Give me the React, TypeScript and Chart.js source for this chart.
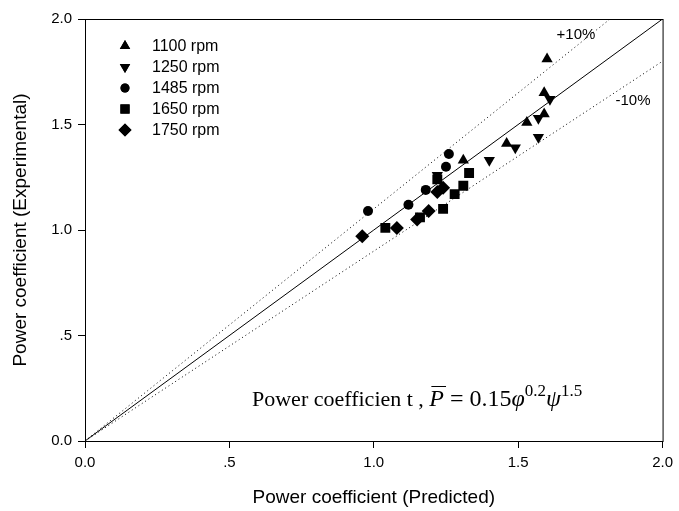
import React, { useEffect, useRef } from "react";
import { Chart, registerables } from "chart.js";
import { drawPoint } from "chart.js/helpers";

Chart.register(...registerables);

const seriesLabels = ["1100 rpm", "1250 rpm", "1485 rpm", "1650 rpm", "1750 rpm"];
const rpm1100X = [1.31, 1.46, 1.53, 1.59, 1.59, 1.6];
const rpm1100Y = [1.33, 1.41, 1.51, 1.55, 1.65, 1.81];
const rpm1250X = [1.22, 1.4, 1.49, 1.57, 1.57, 1.61];
const rpm1250Y = [1.26, 1.33, 1.39, 1.44, 1.53, 1.62];
const rpm1485X = [0.98, 1.12, 1.18, 1.25, 1.26];
const rpm1485Y = [1.09, 1.12, 1.19, 1.3, 1.36];
const rpm1650X = [1.04, 1.16, 1.22, 1.24, 1.28, 1.31, 1.33];
const rpm1650Y = [1.01, 1.06, 1.24, 1.1, 1.17, 1.21, 1.27];
const rpm1750X = [0.96, 1.08, 1.15, 1.19, 1.22, 1.24];
const rpm1750Y = [0.97, 1.01, 1.05, 1.09, 1.18, 1.2];

const tickValues = [0, 0.5, 1, 1.5, 2];
const tickLabels = ["0.0", ".5", "1.0", "1.5", "2.0"];

const perfectLine = [0, 2];
const upperBandX = [0, 2 / 1.1];
const upperBandY = [0, 2];
const lowerBandX = [0, 2];
const lowerBandY = [0, 1.8];

const xTitle = "Power coefficient (Predicted)";
const yTitle = "Power coefficient (Experimental)";

const SANS = '"Liberation Sans", Arial, sans-serif';
const SERIF = '"Liberation Serif", "Times New Roman", serif';

const markerStyles = [
  { pointStyle: "triangle", rotation: 0, radius: 6.5 },
  { pointStyle: "triangle", rotation: 180, radius: 6.5 },
  { pointStyle: "circle", rotation: 0, radius: 5 },
  { pointStyle: "rect", rotation: 0, radius: 7 },
  { pointStyle: "rectRot", rotation: 0, radius: 7 },
];

const zip = (xs: number[], ys: number[]) => xs.map((x, i) => ({ x, y: ys[i] }));

const decorPlugin = {
  id: "decor",
  afterDraw(chart: any) {
    const { ctx, chartArea } = chart;
    const { left, right, top, bottom } = chartArea;
    ctx.save();
    // frame
    ctx.strokeStyle = "#000";
    ctx.lineWidth = 1;
    ctx.strokeRect(left + 0.5, top + 0.5, right - left, bottom - top);

    // axis titles
    ctx.fillStyle = "#000";
    ctx.font = `19px ${SANS}`;
    ctx.textAlign = "center";
    ctx.textBaseline = "middle";
    ctx.fillText(xTitle, (left + right) / 2, 498);
    ctx.save();
    ctx.translate(21, (top + bottom) / 2);
    ctx.rotate(-Math.PI / 2);
    ctx.fillText(yTitle, 0, 0);
    ctx.restore();

    // legend
    ctx.font = `16px ${SANS}`;
    ctx.textAlign = "left";
    ctx.textBaseline = "middle";
    const rows = [46, 67, 88, 109, 130];
    seriesLabels.forEach((lab, i) => {
      const m = markerStyles[i];
      ctx.fillStyle = "#000";
      ctx.strokeStyle = "#000";
      drawPoint(ctx, { pointStyle: m.pointStyle, rotation: m.rotation, radius: m.radius - 0.5, borderWidth: 0 }, 125, rows[i]);
      ctx.fill();
      ctx.fillText(lab, 152, rows[i] + 1);
    });

    // band labels
    ctx.font = `15px ${SANS}`;
    ctx.textAlign = "center";
    ctx.fillText("+10%", 576, 35);
    ctx.fillText("-10%", 633, 101);

    // equation
    let x = 252;
    const base = 406;
    ctx.textAlign = "left";
    ctx.textBaseline = "alphabetic";
    const put = (s: string, font: string, dy = 0) => {
      ctx.font = font;
      ctx.fillText(s, x, base + dy);
      const w = ctx.measureText(s).width;
      x += w;
      return w;
    };
    const txt = `22px ${SERIF}`;
    const reg = `24px ${SERIF}`;
    const ital = `italic 24px ${SERIF}`;
    const sup = `17px ${SERIF}`;
    put("Power coefficien t , ", txt);
    const px = x;
    const pw = put("P", ital);
    ctx.beginPath();
    ctx.moveTo(px + 2, base - 19.5);
    ctx.lineTo(px + pw + 2, base - 19.5);
    ctx.lineWidth = 1;
    ctx.stroke();
    put(" = 0.15", reg);
    put("\u03C6", ital);
    put("0.2", sup, -10);
    put("\u03C8", ital);
    put("1.5", sup, -10);
    ctx.restore();
  },
};

export default function App() {
  const ref = useRef<HTMLCanvasElement | null>(null);
  useEffect(() => {
    document.body.style.margin = "0";
    const canvas = ref.current;
    if (!canvas) return;
    const pointSets = [
      zip(rpm1100X, rpm1100Y),
      zip(rpm1250X, rpm1250Y),
      zip(rpm1485X, rpm1485Y),
      zip(rpm1650X, rpm1650Y),
      zip(rpm1750X, rpm1750Y),
    ];
    const pointDatasets = pointSets.map((data, i) => ({
      label: seriesLabels[i],
      data,
      pointStyle: markerStyles[i].pointStyle,
      rotation: markerStyles[i].rotation,
      pointRadius: markerStyles[i].radius,
      backgroundColor: "#000",
      borderColor: "#000",
      borderWidth: 0,
      showLine: false,
    }));
    const lineDs = (xs: number[], ys: number[], dash: number[]) => ({
      label: "",
      data: zip(xs, ys),
      showLine: true,
      pointRadius: 0,
      borderColor: "#000",
      borderWidth: 1,
      borderDash: dash,
      fill: false,
    });
    const chart = new Chart(canvas, {
      type: "scatter",
      data: {
        datasets: [
          ...pointDatasets,
          lineDs(perfectLine, perfectLine, []),
          lineDs(upperBandX, upperBandY, [1, 3]),
          lineDs(lowerBandX, lowerBandY, [1, 3]),
        ] as any,
      },
      options: {
        animation: false,
        responsive: false,
        layout: { padding: { left: 0, top: 19, right: 11, bottom: 0 } },
        plugins: { legend: { display: false }, tooltip: { enabled: false } },
        scales: {
          x: {
            type: "linear",
            min: 0,
            max: 2,
            afterFit: (s: any) => {
              s.height = 70;
            },
            afterBuildTicks: (s: any) => {
              s.ticks = tickValues.map((v) => ({ value: v }));
            },
            ticks: {
              callback: (v: any) => tickLabels[tickValues.indexOf(Number(v))] ?? "",
              color: "#000",
              font: { family: SANS, size: 15 },
              padding: 6,
              maxRotation: 0,
            },
            grid: { drawOnChartArea: false, drawTicks: true, tickLength: 7, color: "#000" },
            border: { display: true, color: "#000" },
          },
          y: {
            type: "linear",
            min: 0,
            max: 2,
            afterFit: (s: any) => {
              s.width = 85;
            },
            afterBuildTicks: (s: any) => {
              s.ticks = tickValues.map((v) => ({ value: v }));
            },
            ticks: {
              callback: (v: any) => tickLabels[tickValues.indexOf(Number(v))] ?? "",
              color: "#000",
              font: { family: SANS, size: 15 },
              padding: 6,
            },
            grid: { drawOnChartArea: false, drawTicks: true, tickLength: 7, color: "#000" },
            border: { display: true, color: "#000" },
          },
        },
      },
      plugins: [decorPlugin],
    });
    return () => chart.destroy();
  }, []);
  return (
    <div style={{ width: 679, height: 511 }}>
      <canvas ref={ref} width={679} height={511} style={{ display: "block" }} />
    </div>
  );
}
